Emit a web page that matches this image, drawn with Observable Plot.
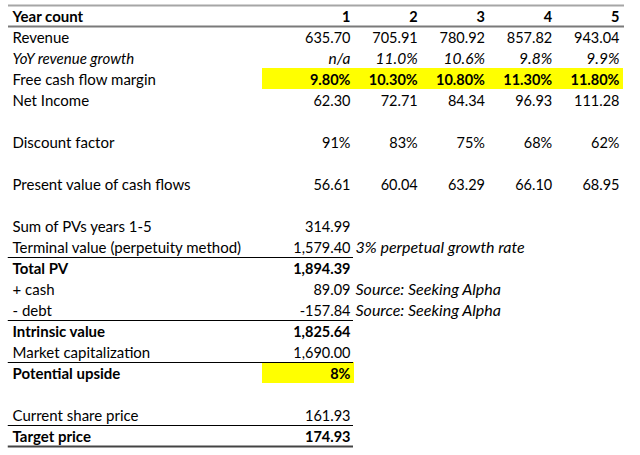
<!DOCTYPE html>
<html><head><meta charset="utf-8">
<script src="https://cdn.jsdelivr.net/npm/d3@7"></script>
<script src="https://cdn.jsdelivr.net/npm/@observablehq/plot@0.6"></script>
<style>body{margin:0;background:#fff}</style>
</head><body><div id="chart"></div>
<script>
// ---- data ----
const years = [1, 2, 3, 4, 5];
const revenue = [635.70, 705.91, 780.92, 857.82, 943.04];
const yoyGrowth = [null, 0.110, 0.106, 0.098, 0.099];
const fcfMargin = [0.098, 0.103, 0.108, 0.113, 0.118];
const netIncome = [62.30, 72.71, 84.34, 96.93, 111.28];
const discountFactor = [0.91, 0.83, 0.75, 0.68, 0.62];
const pvCashFlows = [56.61, 60.04, 63.29, 66.10, 68.95];

const rowLabels = ["Year count", "Revenue", "YoY revenue growth", "Free cash flow margin", "Net Income", "",
  "Discount factor", "", "Present value of cash flows", "", "Sum of PVs years 1-5",
  "Terminal value (perpetuity method)", "Total PV", "+ cash", "- debt", "Intrinsic value",
  "Market capitalization", "Potential upside", "", "Current share price", "Target price"];
const summaryLabels = ["Sum of PVs years 1-5", "Terminal value (perpetuity method)", "Total PV", "+ cash", "- debt",
  "Intrinsic value", "Market capitalization", "Potential upside", "Current share price", "Target price"];
const summaryValues = [314.99, 1579.40, 1894.39, 89.09, -157.84, 1825.64, 1690.00, 0.08, 161.93, 174.93];
const summaryNotes = ["", "3% perpetual growth rate", "", "Source: Seeking Alpha", "Source: Seeking Alpha", "", "", "", "", ""];
const boldLabels = ["Year count", "Total PV", "Intrinsic value", "Potential upside", "Target price"];
const italicLabels = ["YoY revenue growth"];
const highlights = [{label: "Free cash flow margin", from: 1, to: 5}, {label: "Potential upside", from: 1, to: 1}];
const fullRulesBelow = ["Year count"];
const partialRulesBelow = ["Terminal value (perpetuity method)", "- debt", "Market capitalization", "Current share price"];

// ---- build tables ----
const rowIndex = l => rowLabels.indexOf(l);
const f2 = d3.format(",.2f");
const cells = [];
years.forEach((y, i) => {
  cells.push({row: rowIndex("Year count"), col: y, text: String(y), style: "bold"});
  cells.push({row: rowIndex("Revenue"), col: y, text: f2(revenue[i]), style: "normal"});
  cells.push({row: rowIndex("YoY revenue growth"), col: y, text: yoyGrowth[i] == null ? "n/a" : d3.format(".1%")(yoyGrowth[i]), style: "italic"});
  cells.push({row: rowIndex("Free cash flow margin"), col: y, text: d3.format(".2%")(fcfMargin[i]), style: "bold"});
  cells.push({row: rowIndex("Net Income"), col: y, text: f2(netIncome[i]), style: "normal"});
  cells.push({row: rowIndex("Discount factor"), col: y, text: d3.format(".0%")(discountFactor[i]), style: "normal"});
  cells.push({row: rowIndex("Present value of cash flows"), col: y, text: f2(pvCashFlows[i]), style: "normal"});
});
summaryLabels.forEach((l, i) => {
  const v = summaryValues[i];
  cells.push({row: rowIndex(l), col: 1, text: l === "Potential upside" ? d3.format(".0%")(v) : f2(v).replace("−", "-"),
    style: boldLabels.includes(l) ? "bold" : "normal"});
});
const labels = rowLabels.map((l, i) => ({row: i, text: l,
  style: boldLabels.includes(l) ? "bold" : italicLabels.includes(l) ? "italic" : "normal"})).filter(d => d.text);
const notes = summaryLabels.map((l, i) => ({row: rowIndex(l), col: 1, text: summaryNotes[i]})).filter(d => d.text);
const hl = highlights.map(h => ({row: rowIndex(h.label), from: h.from, to: h.to}));
const topRule = [{y: 0}];
const fullRules = fullRulesBelow.map(l => ({y: rowIndex(l) + 1}));
const partialRules = partialRulesBelow.map(l => ({y: rowIndex(l) + 1}));
const bottomRule = [{y: rowLabels.length}];

const font = "Lato, 'Open Sans', sans-serif";
const fs = 14.5;
const mid = d => d.row + 0.5;
const styleOf = s => ({fontWeight: s === "bold" ? "bold" : "normal", fontStyle: s === "italic" ? "italic" : "normal",
  fontSize: s === "italic" ? 15.5 : fs});

const chart = Plot.plot({
  width: 640, height: 455,
  marginTop: 5, marginBottom: 9, marginLeft: 8, marginRight: 16,
  style: {fontFamily: font, fontSize: fs + "px", color: "#000", background: "#fff"},
  x: {type: "linear", domain: [1, 5], range: [350, 619], axis: null},
  y: {type: "linear", domain: [0, rowLabels.length], reverse: true, axis: null},
  marks: [
    Plot.rect(hl, {x1: "from", x2: "to", y1: "row", y2: d => d.row + 1, fill: "#ffff00", insetLeft: -88, insetRight: -4}),
    Plot.ruleY(topRule, {y: "y", stroke: "#a6a6a6", strokeWidth: 2}),
    Plot.ruleY(fullRules, {y: "y", stroke: "#7a7a7a", strokeWidth: 2}),
    Plot.ruleY(partialRules, {y: "y", x1: () => 0, x2: () => 1, insetLeft: -275, insetRight: -3, stroke: "#000", strokeWidth: 1}),
    Plot.ruleY(bottomRule, {y: "y", x1: () => 0, x2: () => 1, insetLeft: -275, insetRight: -3, stroke: "#444", strokeWidth: 2}),
    ...["normal", "bold", "italic"].map(s => Plot.text(labels.filter(d => d.style === s), {
      y: mid, text: "text", frameAnchor: "left", textAnchor: "start", dx: 4, dy: 1, fill: "#000",
      ...styleOf(s), fontSize: s === "italic" ? 15 : 15})),
    ...["normal", "bold", "italic"].map(s => Plot.text(cells.filter(d => d.style === s), {
      x: "col", y: mid, text: "text", textAnchor: "end", dy: 1, fill: "#000", ...styleOf(s)})),
    Plot.text(notes, {x: "col", y: mid, text: "text", textAnchor: "start", dx: 5, dy: 1,
      fontSize: 16, fontStyle: "italic", fill: "#000"})
  ]
});
document.getElementById("chart").append(chart);
</script>
</body></html>
